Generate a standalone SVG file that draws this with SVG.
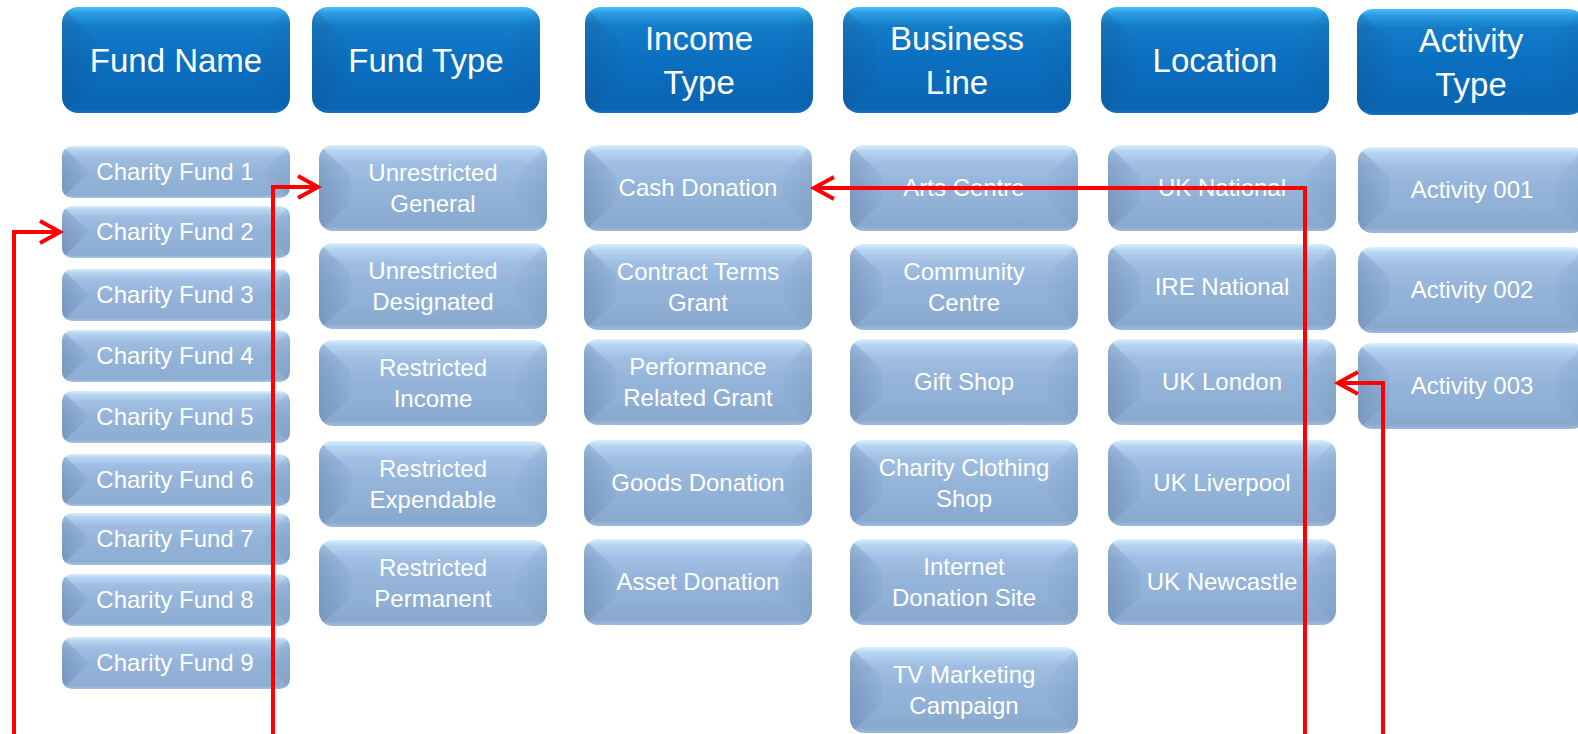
<svg xmlns="http://www.w3.org/2000/svg" xmlns:xlink="http://www.w3.org/1999/xlink" width="1578" height="734" viewBox="0 0 1578 734">
<style>
.ht{font-family:"Liberation Sans",Arial,sans-serif;font-size:33px;fill:#fff;text-anchor:middle}
.st{font-family:"Liberation Sans",Arial,sans-serif;font-size:24px;fill:#fff;text-anchor:middle}
.cn{fill:none;stroke:#ff0000;stroke-width:4;stroke-linejoin:miter}
</style>
<defs>
<linearGradient id="gH" x1="0" y1="0" x2="0" y2="1">
<stop offset="0" stop-color="#48c0fa"/>
<stop offset="0.06" stop-color="#2b9be0"/>
<stop offset="0.18" stop-color="#137cc9"/>
<stop offset="0.5" stop-color="#0b6fbf"/>
<stop offset="0.95" stop-color="#0966b5"/>
<stop offset="1" stop-color="#1474c2"/>
</linearGradient>
<linearGradient id="gS" x1="0" y1="0" x2="0" y2="1">
<stop offset="0" stop-color="#d8f1ff"/>
<stop offset="0.07" stop-color="#b6d4f1"/>
<stop offset="0.22" stop-color="#9fbee2"/>
<stop offset="0.5" stop-color="#94b3d8"/>
<stop offset="0.94" stop-color="#8eadd2"/>
<stop offset="1" stop-color="#a6c3e4"/>
</linearGradient>
<linearGradient id="gL" x1="0" y1="0" x2="1" y2="0">
<stop offset="0" stop-color="#1d3f6e" stop-opacity="0.2"/>
<stop offset="1" stop-color="#1d3f6e" stop-opacity="0.04"/>
</linearGradient>
<linearGradient id="gR" x1="1" y1="0" x2="0" y2="0">
<stop offset="0" stop-color="#1d3f6e" stop-opacity="0.1"/>
<stop offset="1" stop-color="#1d3f6e" stop-opacity="0.02"/>
</linearGradient>
<linearGradient id="gB" x1="0" y1="1" x2="0" y2="0">
<stop offset="0" stop-color="#1d3f6e" stop-opacity="0.06"/>
<stop offset="1" stop-color="#1d3f6e" stop-opacity="0"/>
</linearGradient>
<clipPath id="cH"><rect width="228" height="106" rx="16"/></clipPath>
<clipPath id="cM"><rect width="228" height="86" rx="14"/></clipPath>
<clipPath id="cS"><rect width="228" height="52" rx="10"/></clipPath>
<g id="boxH">
<rect width="228" height="106" rx="16" fill="url(#gH)"/>
<g clip-path="url(#cH)">
<polygon points="0,0 34,32 34,76 0,106" fill="url(#gL)"/>
<polygon points="228,0 196,32 196,76 228,106" fill="url(#gR)"/>
<polygon points="0,106 34,76 196,76 228,106" fill="url(#gB)"/>
</g>
</g>
<g id="boxM">
<rect width="228" height="86" rx="14" fill="url(#gS)"/>
<g clip-path="url(#cM)">
<polygon points="0,0 32,30 32,58 0,86" fill="url(#gL)"/>
<polygon points="228,0 198,30 198,58 228,86" fill="url(#gR)"/>
<polygon points="0,86 32,58 198,58 228,86" fill="url(#gB)"/>
</g>
</g>
<g id="boxS">
<rect width="228" height="52" rx="10" fill="url(#gS)"/>
<g clip-path="url(#cS)">
<polygon points="0,0 26,24 26,28 0,52" fill="url(#gL)"/>
<polygon points="228,0 202,24 202,28 228,52" fill="url(#gR)"/>
</g>
</g>
<marker id="ah" markerUnits="userSpaceOnUse" markerWidth="30" markerHeight="30" viewBox="-26 -15 30 30" refX="0" refY="0" orient="auto">
<path d="M-21,-11 L-1,0 L-21,11" fill="none" stroke="#ff0000" stroke-width="4" stroke-linejoin="miter"/>
</marker>
</defs>
<rect width="1578" height="734" fill="#fff"/>

<g id="headers">
<g id="h-fund-name" transform="translate(62,7)"><use xlink:href="#boxH" href="#boxH"/><text class="ht" x="114" y="65">Fund Name</text></g>
<g id="h-fund-type" transform="translate(312,7)"><use xlink:href="#boxH" href="#boxH"/><text class="ht" x="114" y="65">Fund Type</text></g>
<g id="h-income-type" transform="translate(585,7)"><use xlink:href="#boxH" href="#boxH"/><text class="ht" x="114" y="43">Income</text><text class="ht" x="114" y="87">Type</text></g>
<g id="h-business-line" transform="translate(843,7)"><use xlink:href="#boxH" href="#boxH"/><text class="ht" x="114" y="43">Business</text><text class="ht" x="114" y="87">Line</text></g>
<g id="h-location" transform="translate(1101,7)"><use xlink:href="#boxH" href="#boxH"/><text class="ht" x="114" y="65">Location</text></g>
<g id="h-activity-type" transform="translate(1357,9)"><use xlink:href="#boxH" href="#boxH"/><text class="ht" x="114" y="43">Activity</text><text class="ht" x="114" y="87">Type</text></g>
</g>

<g id="fund-names">
<g id="cf1" transform="translate(62,146)"><use xlink:href="#boxS" href="#boxS"/><text class="st" x="113" y="34">Charity Fund 1</text></g>
<g id="cf2" transform="translate(62,206)"><use xlink:href="#boxS" href="#boxS"/><text class="st" x="113" y="34">Charity Fund 2</text></g>
<g id="cf3" transform="translate(62,269)"><use xlink:href="#boxS" href="#boxS"/><text class="st" x="113" y="34">Charity Fund 3</text></g>
<g id="cf4" transform="translate(62,330)"><use xlink:href="#boxS" href="#boxS"/><text class="st" x="113" y="34">Charity Fund 4</text></g>
<g id="cf5" transform="translate(62,391)"><use xlink:href="#boxS" href="#boxS"/><text class="st" x="113" y="34">Charity Fund 5</text></g>
<g id="cf6" transform="translate(62,454)"><use xlink:href="#boxS" href="#boxS"/><text class="st" x="113" y="34">Charity Fund 6</text></g>
<g id="cf7" transform="translate(62,513)"><use xlink:href="#boxS" href="#boxS"/><text class="st" x="113" y="34">Charity Fund 7</text></g>
<g id="cf8" transform="translate(62,574)"><use xlink:href="#boxS" href="#boxS"/><text class="st" x="113" y="34">Charity Fund 8</text></g>
<g id="cf9" transform="translate(62,637)"><use xlink:href="#boxS" href="#boxS"/><text class="st" x="113" y="34">Charity Fund 9</text></g>
</g>

<g id="fund-types">
<g id="ft1" transform="translate(319,145)"><use xlink:href="#boxM" href="#boxM"/><text class="st" x="114" y="36">Unrestricted</text><text class="st" x="114" y="67">General</text></g>
<g id="ft2" transform="translate(319,243)"><use xlink:href="#boxM" href="#boxM"/><text class="st" x="114" y="36">Unrestricted</text><text class="st" x="114" y="67">Designated</text></g>
<g id="ft3" transform="translate(319,340)"><use xlink:href="#boxM" href="#boxM"/><text class="st" x="114" y="36">Restricted</text><text class="st" x="114" y="67">Income</text></g>
<g id="ft4" transform="translate(319,441)"><use xlink:href="#boxM" href="#boxM"/><text class="st" x="114" y="36">Restricted</text><text class="st" x="114" y="67">Expendable</text></g>
<g id="ft5" transform="translate(319,540)"><use xlink:href="#boxM" href="#boxM"/><text class="st" x="114" y="36">Restricted</text><text class="st" x="114" y="67">Permanent</text></g>
</g>

<g id="income-types">
<g id="it1" transform="translate(584,145)"><use xlink:href="#boxM" href="#boxM"/><text class="st" x="114" y="51">Cash Donation</text></g>
<g id="it2" transform="translate(584,244)"><use xlink:href="#boxM" href="#boxM"/><text class="st" x="114" y="36">Contract Terms</text><text class="st" x="114" y="67">Grant</text></g>
<g id="it3" transform="translate(584,339)"><use xlink:href="#boxM" href="#boxM"/><text class="st" x="114" y="36">Performance</text><text class="st" x="114" y="67">Related Grant</text></g>
<g id="it4" transform="translate(584,440)"><use xlink:href="#boxM" href="#boxM"/><text class="st" x="114" y="51">Goods Donation</text></g>
<g id="it5" transform="translate(584,539)"><use xlink:href="#boxM" href="#boxM"/><text class="st" x="114" y="51">Asset Donation</text></g>
</g>

<g id="business-lines">
<g id="bl1" transform="translate(850,145)"><use xlink:href="#boxM" href="#boxM"/><text class="st" x="114" y="51">Arts Centre</text></g>
<g id="bl2" transform="translate(850,244)"><use xlink:href="#boxM" href="#boxM"/><text class="st" x="114" y="36">Community</text><text class="st" x="114" y="67">Centre</text></g>
<g id="bl3" transform="translate(850,339)"><use xlink:href="#boxM" href="#boxM"/><text class="st" x="114" y="51">Gift Shop</text></g>
<g id="bl4" transform="translate(850,440)"><use xlink:href="#boxM" href="#boxM"/><text class="st" x="114" y="36">Charity Clothing</text><text class="st" x="114" y="67">Shop</text></g>
<g id="bl5" transform="translate(850,539)"><use xlink:href="#boxM" href="#boxM"/><text class="st" x="114" y="36">Internet</text><text class="st" x="114" y="67">Donation Site</text></g>
<g id="bl6" transform="translate(850,647)"><use xlink:href="#boxM" href="#boxM"/><text class="st" x="114" y="36">TV Marketing</text><text class="st" x="114" y="67">Campaign</text></g>
</g>

<g id="locations">
<g id="lo1" transform="translate(1108,145)"><use xlink:href="#boxM" href="#boxM"/><text class="st" x="114" y="51">UK National</text></g>
<g id="lo2" transform="translate(1108,244)"><use xlink:href="#boxM" href="#boxM"/><text class="st" x="114" y="51">IRE National</text></g>
<g id="lo3" transform="translate(1108,339)"><use xlink:href="#boxM" href="#boxM"/><text class="st" x="114" y="51">UK London</text></g>
<g id="lo4" transform="translate(1108,440)"><use xlink:href="#boxM" href="#boxM"/><text class="st" x="114" y="51">UK Liverpool</text></g>
<g id="lo5" transform="translate(1108,539)"><use xlink:href="#boxM" href="#boxM"/><text class="st" x="114" y="51">UK Newcastle</text></g>
</g>

<g id="activities">
<g id="ac1" transform="translate(1358,147)"><use xlink:href="#boxM" href="#boxM"/><text class="st" x="114" y="51">Activity 001</text></g>
<g id="ac2" transform="translate(1358,247)"><use xlink:href="#boxM" href="#boxM"/><text class="st" x="114" y="51">Activity 002</text></g>
<g id="ac3" transform="translate(1358,343)"><use xlink:href="#boxM" href="#boxM"/><text class="st" x="114" y="51">Activity 003</text></g>
</g>

<g id="connectors">
<path class="cn" d="M14,740 V232 H61" marker-end="url(#ah)"/>
<path class="cn" d="M273,740 V187 H319" marker-end="url(#ah)"/>
<path class="cn" d="M1305,740 V188 H813" marker-end="url(#ah)"/>
<path class="cn" d="M1383,740 V383 H1337" marker-end="url(#ah)"/>
</g>
</svg>
